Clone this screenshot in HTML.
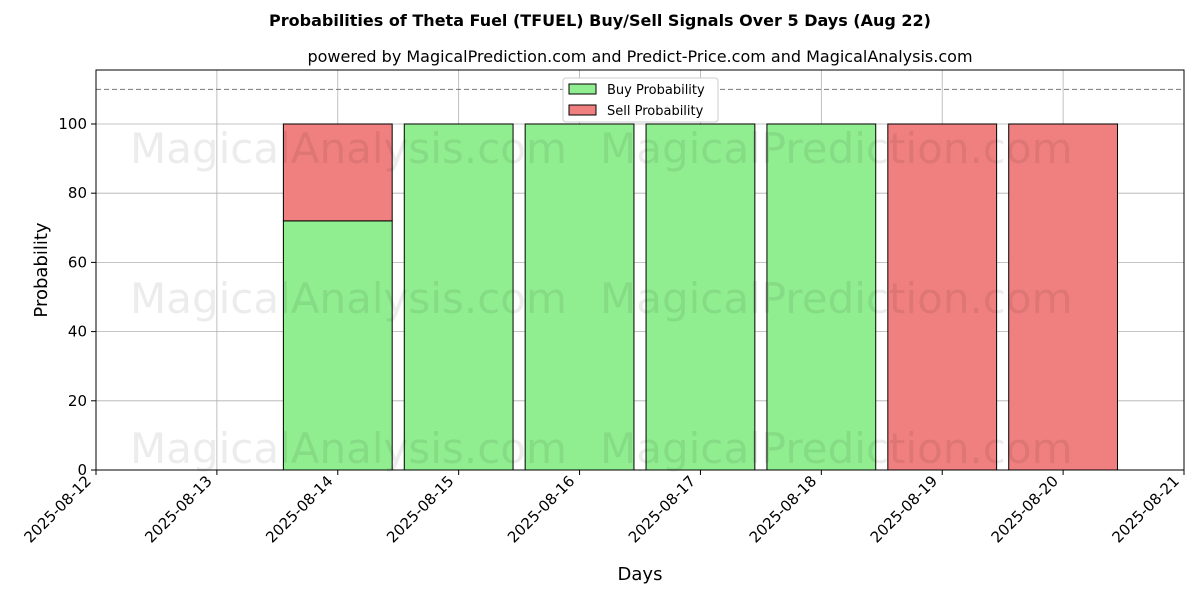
<!DOCTYPE html>
<html><head><meta charset="utf-8"><style>
body{margin:0;background:#fff;font-family:"Liberation Sans","DejaVu Sans",sans-serif;}
svg text{font-family:"DejaVu Sans","Liberation Sans",sans-serif;}
</style></head><body>
<svg id="chart" width="1200" height="600" xmlns="http://www.w3.org/2000/svg">
<text x="600" y="26" text-anchor="middle" font-size="16" font-weight="bold">Probabilities of Theta Fuel (TFUEL) Buy/Sell Signals Over 5 Days (Aug 22)</text>
<text x="640" y="62" text-anchor="middle" font-size="16">powered by MagicalPrediction.com and Predict-Price.com and MagicalAnalysis.com</text>
<g id="grid"></g>
<g id="bars"></g>
<g id="wm" fill="#000" opacity="0.07" font-size="42">
<text x="130" y="163">MagicalAnalysis.com</text>
<text x="600" y="163">MagicalPrediction.com</text>
<text x="130" y="313">MagicalAnalysis.com</text>
<text x="600" y="313">MagicalPrediction.com</text>
<text x="130" y="463">MagicalAnalysis.com</text>
<text x="600" y="463">MagicalPrediction.com</text>
</g>
<line id="thr" x1="96" x2="1184" stroke="#777" stroke-dasharray="5,3"/>
<rect x="96" y="70" width="1088" height="400" fill="none" stroke="#000"/>
<g id="axes"></g>
<text x="640" y="580" text-anchor="middle" font-size="18">Days</text>
<text transform="translate(47,270) rotate(-90)" text-anchor="middle" font-size="18">Probability</text>
<g>
<rect x="563" y="78" width="155" height="44" fill="#fff" stroke="#ccc" rx="3"/>
<rect x="569" y="84" width="27" height="10" fill="#90ee90" stroke="#000"/>
<text x="607" y="94" font-size="13">Buy Probability</text>
<rect x="569" y="105" width="27" height="10" fill="#f08080" stroke="#000"/>
<text x="607" y="115" font-size="13">Sell Probability</text>
</g>
</svg>
<script>
const tickLabels=["2025-08-12","2025-08-13","2025-08-14","2025-08-15","2025-08-16","2025-08-17","2025-08-18","2025-08-19","2025-08-20","2025-08-21"];
const dayIndex=[2,3,4,5,6,7,8];
const buyValues=[72,100,100,100,100,0,0];
const sellValues=[28,0,0,0,0,100,100];
const yTicks=[0,20,40,60,80,100];
const threshold=110;
const NS="http://www.w3.org/2000/svg";
const x0=96,x1=1184,yb=470,yt=70,yMax=115.6;
const xs=d=>x0+d*(x1-x0)/9;
const ys=v=>yb-v*(yb-yt)/yMax;
function mk(t,a,p){const e=document.createElementNS(NS,t);for(const k in a)e.setAttribute(k,a[k]);p.appendChild(e);return e;}
const grid=document.getElementById('grid'),axes=document.getElementById('axes'),bars=document.getElementById('bars');
tickLabels.forEach((l,i)=>{const x=xs(i);
 const g=mk('line',{x1:x,x2:x,y1:yt,y2:yb,stroke:'#b0b0b0','stroke-width':0.8},grid);
 
 
 mk('line',{x1:x,x2:x,y1:yb,y2:yb+5,stroke:'#000'},axes);
 const ax=x-4,ay=yb+12;
 const t=mk('text',{x:ax,y:ay,'font-size':15,'text-anchor':'end',transform:`rotate(-45 ${ax} ${ay})`},axes);
 t.textContent=l;
 
 
});
yTicks.forEach(v=>{const y=ys(v);
 const g=mk('line',{x1:x0,x2:x1,y1:y,y2:y,stroke:'#b0b0b0','stroke-width':0.8},grid);
 
 
 mk('line',{x1:x0-5,x2:x0,y1:y,y2:y,stroke:'#000'},axes);
 const t=mk('text',{x:x0-9,y:y+5,'font-size':15,'text-anchor':'end'},axes);
 t.textContent=v;
 
 
});
const bw=0.9*(x1-x0)/9;
dayIndex.forEach((d,i)=>{const cx=xs(d);
 if(buyValues[i]>0){const r=mk('rect',{x:cx-bw/2,y:ys(buyValues[i]),width:bw,height:ys(0)-ys(buyValues[i]),fill:'#90ee90',stroke:'#000'},bars);
  
  }
 if(sellValues[i]>0){const top=buyValues[i]+sellValues[i];
  const r=mk('rect',{x:cx-bw/2,y:ys(top),width:bw,height:ys(buyValues[i])-ys(top),fill:'#f08080',stroke:'#000'},bars);
  
  }
});
const th=document.getElementById('thr');th.setAttribute('y1',ys(threshold));th.setAttribute('y2',ys(threshold));
</script>
</body></html>
